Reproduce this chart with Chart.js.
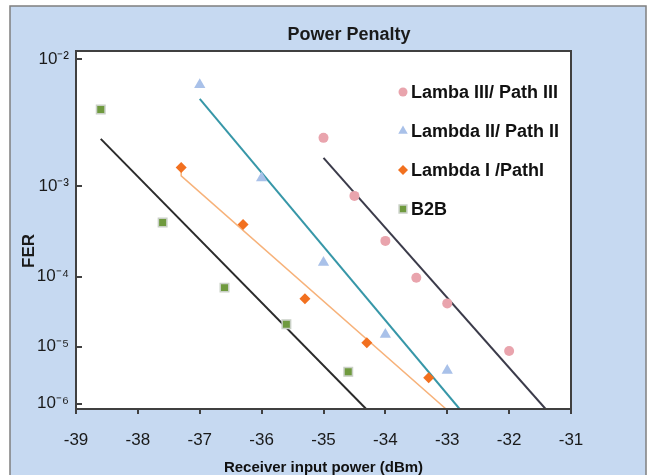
<!DOCTYPE html>
<html>
<head>
<meta charset="utf-8">
<script src="https://cdn.jsdelivr.net/npm/chart.js@4.4.1/dist/chart.umd.min.js"></script>
<style>
  html, body { margin: 0; padding: 0; background: #fff; }
  #wrap { width: 650px; height: 475px; }
</style>
</head>
<body>
<div id="wrap"><canvas id="chart" width="650" height="475"></canvas></div>
<script>
// measured points (x in dBm, y as FER)
const lambda3X = [-35, -34.5, -34, -33.5, -33, -32];
const lambda3Fer = [2.7e-3, 8.1e-4, 2.7e-4, 9.7e-5, 4.4e-5, 8.5e-6];
const lambda2X = [-37, -36, -35, -34, -33];
const lambda2Fer = [6.8e-3, 1.2e-3, 1.5e-4, 1.55e-5, 4.0e-6];
const lambda1X = [-37.3, -36.3, -35.3, -34.3, -33.3];
const lambda1Fer = [1.5e-3, 4.1e-4, 5.1e-5, 1.15e-5, 3.0e-6];
const b2bX = [-38.6, -37.6, -36.6, -35.6, -34.6];
const b2bFer = [4.5e-3, 4.3e-4, 7.2e-5, 2.2e-5, 3.8e-6];

// fitted lines (end points)
const fit3X = [-35.0, -31.41];
const fit3Fer = [1.83e-3, 7.9e-7];
const fit2X = [-37.0, -32.8];
const fit2Fer = [5.4e-3, 7.9e-7];
const fit1X = [-37.3, -37.3, -33.02];
const fit1Fer = [1.5e-3, 1.26e-3, 7.9e-7];
const fitB2bX = [-38.6, -34.31];
const fitB2bFer = [2.65e-3, 7.9e-7];

const legendLabels = ["Lamba III/ Path III", "Lambda II/ Path II", "Lambda I /PathI", "B2B"];

const xTicksMin = -39;
const xTicksMax = -31;
const yTopFer = 1.13e-2;
const yBottomFer = 7.9e-7;
const yTickFer = [1e-2, 1e-3, 1e-4, 1e-5, 1e-6];
const yTickLabels = ["10\u207B\u00B2", "10\u207B\u00B3", "10\u207B\u2074", "10\u207B\u2075", "10\u207B\u2076"];

const FONT = "'Liberation Sans', Arial, Helvetica, sans-serif";

// BER-style axis: y = -log10(-log10(FER))
function tr(v) { return -Math.log10(-Math.log10(v)); }
function pts(xs, fer) { return xs.map((x, i) => ({ x: x, y: tr(fer[i]) })); }

function markerSet(label, xs, fer, style, radius, fill, border, bw) {
  return {
    type: "scatter",
    label: label,
    data: pts(xs, fer),
    pointStyle: style,
    pointRadius: radius,
    pointHoverRadius: radius,
    backgroundColor: fill,
    borderColor: border,
    pointBorderWidth: bw,
    showLine: false,
    order: 0
  };
}

function lineSet(xs, fer, color, width) {
  return {
    type: "line",
    label: "",
    data: pts(xs, fer),
    borderColor: color,
    borderWidth: width,
    pointRadius: 0,
    fill: false,
    tension: 0,
    order: 1
  };
}

const markers = [
  markerSet(legendLabels[0], lambda3X, lambda3Fer, "circle", 5, "#e9a4ad", "#e9a4ad", 0),
  markerSet(legendLabels[1], lambda2X, lambda2Fer, "triangle", 6.5, "#a9c1e9", "#a9c1e9", 0),
  markerSet(legendLabels[2], lambda1X, lambda1Fer, "rectRot", 5.5, "#f2701f", "#f2701f", 0),
  markerSet(legendLabels[3], b2bX, b2bFer, "rect", 6, "#6f9a3e", "#c9d0c6", 1.5)
];
const legendRadius = [4.5, 5.5, 5, 5.5];

const lines = [
  lineSet(fit3X, fit3Fer, "#3b3b4a", 2),
  lineSet(fit2X, fit2Fer, "#3797a8", 2),
  lineSet(fit1X, fit1Fer, "#f7b27a", 1.5),
  lineSet(fitB2bX, fitB2bFer, "#2b2b2b", 2)
];

const decor = {
  id: "decor",
  beforeDraw(chart) {
    const { ctx, chartArea: a } = chart;
    ctx.save();
    ctx.fillStyle = "#ffffff";
    ctx.fillRect(0, 0, chart.width, chart.height);
    ctx.fillStyle = "#c6d9f1";
    ctx.fillRect(10, 6, 636, 480);
    ctx.strokeStyle = "#7f7f7f";
    ctx.lineWidth = 1.5;
    ctx.strokeRect(10, 6, 636, 480);
    ctx.fillStyle = "#ffffff";
    ctx.fillRect(a.left, a.top, a.right - a.left, a.bottom - a.top);

    ctx.fillStyle = "#1a1a1a";
    ctx.font = "bold 18px " + FONT;
    ctx.textAlign = "center";
    ctx.textBaseline = "middle";
    ctx.fillText("Power Penalty", 349, 35);

    ctx.translate(29, 251);
    ctx.rotate(-Math.PI / 2);
    ctx.font = "bold 17px " + FONT;
    ctx.fillText("FER", 0, 0);
    ctx.restore();
  },
  afterDatasetsDraw(chart) {
    const { ctx, chartArea: a } = chart;
    ctx.save();
    ctx.strokeStyle = "#404040";
    ctx.lineWidth = 2;
    ctx.strokeRect(a.left, a.top, a.right - a.left, a.bottom - a.top);
    ctx.restore();
  },
  afterDraw(chart) {
    const ctx = chart.ctx;
    const drawPoint = Chart.helpers && Chart.helpers.drawPoint;
    ctx.save();
    ctx.font = "bold 18px " + FONT;
    ctx.textAlign = "left";
    ctx.textBaseline = "middle";
    markers.forEach((ds, i) => {
      const y = 92 + i * 39;
      ctx.fillStyle = ds.backgroundColor;
      ctx.strokeStyle = ds.borderColor;
      ctx.lineWidth = ds.pointBorderWidth;
      if (drawPoint) {
        drawPoint(ctx, { pointStyle: ds.pointStyle, radius: legendRadius[i], rotation: 0, borderWidth: ds.pointBorderWidth }, 403, y);
      } else {
        ctx.beginPath();
        ctx.arc(403, y, legendRadius[i], 0, Math.PI * 2);
        ctx.fill();
      }
      ctx.fillStyle = "#111111";
      ctx.fillText(ds.label, 411, y + 1);
    });
    ctx.restore();
  }
};

new Chart(document.getElementById("chart"), {
  data: { datasets: markers.concat(lines) },
  options: {
    responsive: false,
    animation: false,
    devicePixelRatio: 1,
    layout: { padding: { left: 0, top: 51, right: 79, bottom: 0 } },
    plugins: {
      legend: { display: false },
      title: { display: false },
      tooltip: { enabled: false }
    },
    scales: {
      x: {
        type: "linear",
        position: "bottom",
        min: xTicksMin,
        max: xTicksMax,
        afterFit(s) { s.height = 66; },
        ticks: {
          stepSize: 1,
          color: "#1a1a1a",
          font: { size: 17, family: FONT },
          padding: 16,
          maxRotation: 0
        },
        grid: { drawOnChartArea: false, tickLength: 5, color: "#404040", lineWidth: 2 },
        border: { display: true, color: "#404040", width: 2 },
        title: {
          display: true,
          text: "Receiver input power (dBm)",
          color: "#111111",
          font: { size: 15, weight: "bold", family: FONT },
          padding: { top: 0, bottom: -2 }
        }
      },
      y: {
        type: "linear",
        position: "left",
        min: tr(yBottomFer),
        max: tr(yTopFer),
        afterFit(s) { s.width = 76; },
        afterBuildTicks(s) { s.ticks = yTickFer.map(v => ({ value: tr(v) })); },
        ticks: {
          color: "#1a1a1a",
          font: { size: 17, family: FONT },
          padding: 13,
          autoSkip: false,
          callback: (v, i) => yTickLabels[i]
        },
        grid: { drawOnChartArea: false, tickLength: -6, color: "#404040", lineWidth: 2 },
        border: { display: true, color: "#404040", width: 2 }
      }
    }
  },
  plugins: [decor]
});
</script>
</body>
</html>
